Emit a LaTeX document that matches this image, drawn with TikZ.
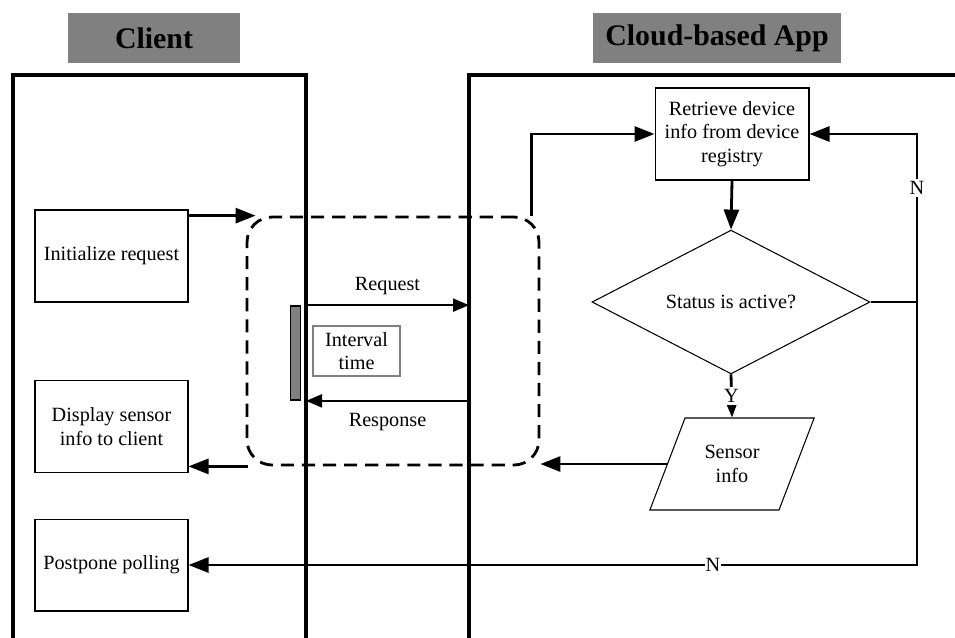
\documentclass[tikz,border=0pt]{standalone}
\usepackage{fontspec}
\setmainfont{Liberation Serif}
\usepackage{tikz}
\usetikzlibrary{shapes, shapes.geometric, arrows.meta, positioning, calc}

\begin{document}
\begin{tikzpicture}[
    x=0.02cm, y=-0.02cm,
    every node/.style={font=\fontsize{11.5}{13.5}\selectfont},
    box/.style={rectangle, draw, line width=0.6pt, minimum width=3.06cm, minimum height=1.84cm, align=center, inner sep=1pt},
    header/.style={rectangle, fill=gray, minimum width=3.44cm, minimum height=1cm, font=\fontsize{17}{20}\selectfont\bfseries},
    lane/.style={line width=1.8pt},
    arrow/.style={-{Triangle[length=0.4cm, width=0.3cm]}, line width=1.6pt},
    thinarrow/.style={-{Triangle[length=0.32cm, width=0.26cm]}, line width=1.2pt},
    flow/.style={line width=1.6pt},
    loopbox/.style={rectangle, draw, dashed, dash pattern=on 7.5pt off 4.5pt, line width=1.6pt, rounded corners=0.5cm, minimum width=5.84cm, minimum height=4.96cm},
    tag/.style={fill=white, inner sep=1.5pt}
  ]
    \useasboundingbox (0,0) rectangle (955,637);

    % Headers
    \node[header] (clienthead) at (154,38) {Client};
    \node[header, minimum width=4.96cm] (cloudhead) at (717,38) {Cloud-based App};

    % Lanes
    \draw[lane] (13,640) -- (13,75) -- (306,75) -- (306,640);
    \draw[lane] (469,640) -- (469,75) -- (958,75);
    \coordinate (clientR) at (306,75);
    \coordinate (cloudL) at (469,75);

    % Client side
    \node[box] (init) at (111.5,256) {Initialize request};
    \node[box] (display) at (111.5,426.5) {Display sensor\\info to client};
    \node[box] (postpone) at (111.5,565) {Postpone polling};

    % Polling loop
    \node[loopbox] (loop) at (393,341) {};
    \node[rectangle, draw, fill=gray, line width=1pt, minimum width=0.2cm, minimum height=1.88cm, inner sep=0pt] (timer) at (295.5,353) {};
    \node[rectangle, draw=gray, line width=0.6pt, minimum width=1.74cm, minimum height=1cm, align=center, inner sep=1pt] (interval) at (356.5,351) {Interval\\time};

    \draw[thinarrow] (clientR |- timer.north) -- node[above=2pt] {Request} (cloudL |- timer.north);
    \draw[thinarrow] (cloudL |- timer.south) -- node[below=3pt] {Response} (clientR |- timer.south);

    % Cloud side
    \node[box, minimum width=3.08cm] (retrieve) at (732,134) {Retrieve device\\info from device\\registry};
    \node[diamond, draw, line width=0.6pt, minimum width=5.56cm, minimum height=1.8cm, inner sep=0pt] (check) at (731,302) {Status is active?};
    \node[trapezium, draw, line width=0.6pt, trapezium left angle=63, trapezium right angle=117, trapezium stretches=true, minimum width=3.3cm, minimum height=1.84cm, align=center] (sensor) at (732,464) {Sensor\\info};
    \coordinate (njoin) at (917,302);

    % Connectors
    \draw[arrow] (init.east |- loop.north) -- ([xshift=0.2cm]loop.north west);
    \draw[arrow] ([xshift=-0.18cm]loop.north east) |- (retrieve.west);
    \draw[arrow] (retrieve.south) -- (check.north);
    \draw[arrow] (check.south) -- node[tag] {Y} (sensor.north);
    \draw[flow] (check.east) -- (njoin);
    \draw[arrow] (njoin) |- node[tag, pos=0.34] {N} (retrieve.east);
    \draw[arrow] (njoin) |- node[tag, pos=0.64, inner sep=0.5pt] {N} (postpone.east);
    \draw[arrow] (sensor.west) -- (loop.east |- sensor.west);
    \draw[arrow] ([xshift=0.05cm]loop.south west) -- (display.east |- loop.south);

  \end{tikzpicture}
\end{document}
